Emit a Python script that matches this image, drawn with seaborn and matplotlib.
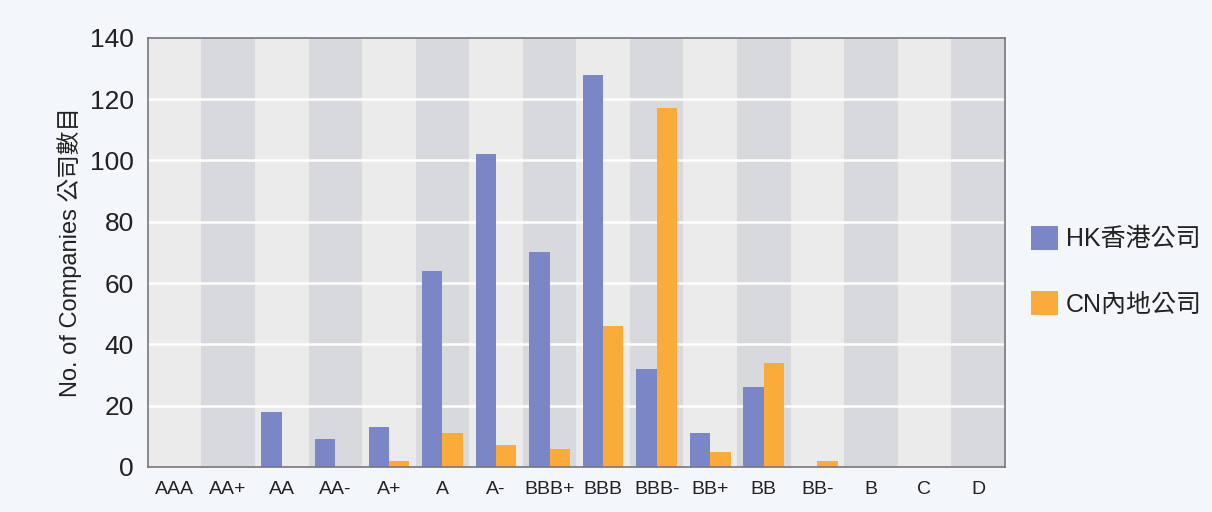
import pandas as pd
import seaborn as sns
import matplotlib.pyplot as plt
from matplotlib.patches import Patch


# Ratings and number of companies per rating
ratings = ['AAA', 'AA+', 'AA', 'AA-', 'A+', 'A', 'A-', 'BBB+', 'BBB', 'BBB-',
           'BB+', 'BB', 'BB-', 'B', 'C', 'D']
hk_counts = [0, 0, 18, 9, 13, 64, 102, 70, 128, 32, 11, 26, 0, 0, 0, 0]
cn_counts = [0, 0, 0, 0, 2, 11, 7, 6, 46, 117, 5, 34, 2, 0, 0, 0]
series_names = ['HK香港公司', 'CN內地公司']
y_ticks = [0, 20, 40, 60, 80, 100, 120, 140]

df = pd.DataFrame({
    'Rating': ratings * 2,
    'Count': hk_counts + cn_counts,
    'Group': [series_names[0]] * len(ratings) + [series_names[1]] * len(ratings),
})

sns.set_style('white')
plt.rcParams['font.family'] = ['Liberation Sans', 'Noto Sans CJK TC', 'DejaVu Sans']
plt.rcParams['text.color'] = '#222222'
plt.rcParams['xtick.color'] = '#222222'
plt.rcParams['ytick.color'] = '#222222'
plt.rcParams['axes.labelcolor'] = '#222222'

colors = ['#7b86c6', '#fbab3a']

fig = plt.figure(figsize=(12.12, 5.12), dpi=100, facecolor='#f3f7fb')
ax = fig.add_axes([0.122, 0.088, 0.707, 0.838])
ax.set_facecolor('#ebebeb')

# alternating column bands
for i in range(len(ratings)):
    if i % 2 == 1:
        ax.axvspan(i - 0.5, i + 0.5, color='#d7d9dc', zorder=0, lw=0)

for y in y_ticks[1:-1]:
    ax.axhline(y, color='white', lw=1.8, zorder=1)

sns.barplot(data=df, x='Rating', y='Count', hue='Group', palette=colors,
            width=0.76, ax=ax, zorder=2, saturation=1, legend=False,
            edgecolor='none', linewidth=0, gap=0)

ax.set_xlim(-0.5, len(ratings) - 0.5)
ax.set_ylim(0, 140)
ax.set_yticks(y_ticks)
ax.set_yticklabels([str(v) for v in y_ticks], fontsize=19)
ax.set_xticks(range(len(ratings)))
ax.set_xticklabels(ratings, fontsize=14)
ax.set_xticks([i - 0.5 for i in range(len(ratings) + 1)], minor=True)
ax.tick_params(axis='x', which='major', length=0, pad=10)
ax.tick_params(axis='x', which='minor', length=5, color='#666666', direction='out')
ax.tick_params(axis='y', length=6, color='#666666', direction='out', pad=4)
ax.set_xlabel('')
ax.set_ylabel('No. of Companies 公司數目', fontsize=17, labelpad=6)

for s in ax.spines.values():
    s.set_color('#777777')
    s.set_linewidth(1.2)

handles = [Patch(facecolor=c, edgecolor='none') for c in colors]
fig.legend(handles, series_names, loc='center left', bbox_to_anchor=(0.832, 0.47),
           frameon=False, fontsize=18, handlelength=1.1, handleheight=1.1,
           labelspacing=1.6, handletextpad=0.3)

plt.savefig('out.png', dpi=100, facecolor=fig.get_facecolor())
